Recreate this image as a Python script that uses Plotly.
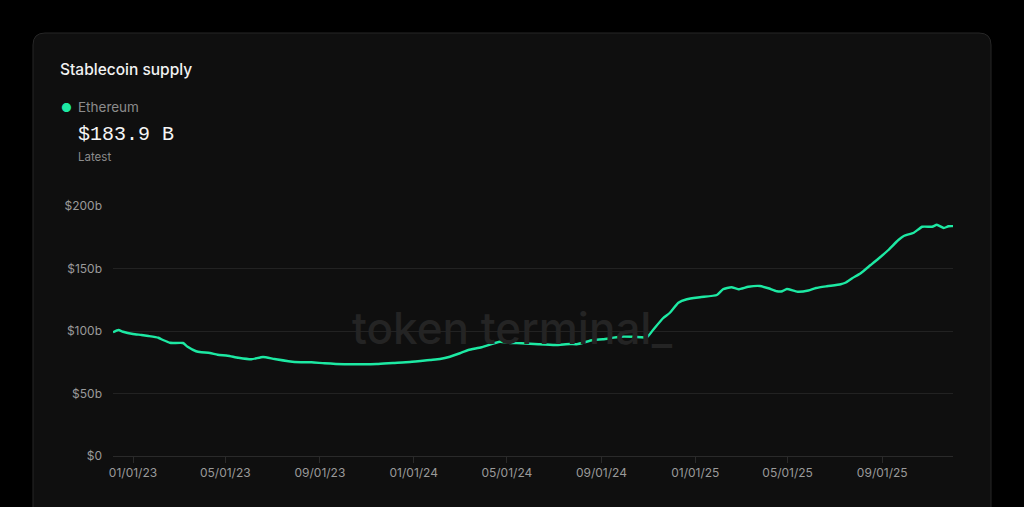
import plotly.graph_objects as go

# Ethereum stablecoin supply, $b
dates = [
    "2022-12-06", "2022-12-13", "2022-12-19", "2023-01-01", "2023-01-12", "2023-01-21",
    "2023-02-03", "2023-02-09", "2023-02-18", "2023-02-22", "2023-03-07", "2023-03-13",
    "2023-03-24", "2023-03-31", "2023-04-11", "2023-04-21", "2023-05-04", "2023-05-18",
    "2023-06-04", "2023-06-19", "2023-07-04", "2023-07-30", "2023-08-21", "2023-09-07",
    "2023-10-03", "2023-10-23", "2023-11-14", "2023-12-05", "2023-12-27", "2024-01-22",
    "2024-02-04", "2024-02-17", "2024-03-01", "2024-03-12", "2024-03-29", "2024-04-22",
    "2024-05-03", "2024-05-20", "2024-06-11", "2024-07-03", "2024-07-22", "2024-07-31",
    "2024-08-21", "2024-09-03", "2024-09-25", "2024-10-12", "2024-10-30", "2024-11-07",
    "2024-11-20", "2024-11-29", "2024-12-10", "2024-12-21", "2025-01-07", "2025-01-29",
    "2025-02-06", "2025-02-17", "2025-02-26", "2025-03-11", "2025-03-26", "2025-04-06",
    "2025-04-17", "2025-04-24", "2025-04-30", "2025-05-14", "2025-05-28", "2025-06-07",
    "2025-06-21", "2025-07-09", "2025-07-15", "2025-07-24", "2025-08-04", "2025-08-17",
    "2025-08-30", "2025-09-09", "2025-09-22", "2025-09-29", "2025-10-12", "2025-10-23",
    "2025-11-05", "2025-11-11", "2025-11-20", "2025-11-26", "2025-12-02",
]
supply = [
    99.0, 100.8, 99.4, 97.6, 96.8, 96.0,
    94.6, 92.8, 90.6, 90.4, 90.4, 87.4,
    83.8, 83.0, 82.4, 81.0, 80.2, 78.6,
    77.4, 79.2, 77.6, 75.2, 75.0, 74.2,
    73.4, 73.4, 73.6, 74.4, 75.2, 76.8,
    77.6, 79.4, 82.2, 84.8, 87.0, 91.4,
    90.6, 90.2, 89.4, 88.8, 89.6, 89.4,
    92.8, 93.4, 95.4, 95.4, 95.0, 100.8,
    110.2, 114.6, 122.6, 125.4, 127.0, 128.8,
    133.4, 135.0, 133.4, 135.4, 136.0, 134.2,
    131.8, 131.8, 133.6, 131.4, 132.4, 134.4,
    135.8, 137.4, 138.6, 142.2, 146.2, 152.8,
    159.4, 164.8, 172.8, 176.0, 178.6, 183.4,
    183.4, 185.0, 182.4, 183.8, 183.9,
]

y_ticks = [0, 50, 100, 150, 200]
y_tick_labels = ["$0", "$50b", "$100b", "$150b", "$200b"]

W, H = 1024, 507
L, R, T, B = 113, 953, 206, 456   # plot area in pixels
GREEN = "#1de9a3"
CARD = "#0f0f0f"


def px(x):
    return (x - L) / (R - L)


def py(y):
    return (B - y) / (B - T)


fig = go.Figure()
fig.add_trace(go.Scatter(
    x=dates, y=supply, mode="lines", name="Ethereum",
    line=dict(color=GREEN, width=2.4, shape="spline", smoothing=0.5), hoverinfo="x+y",
))

# card with rounded corners
cx0, cx1, cy0, cy1, r = 33, 991, 33, 540, 12
rx, ry = r / (R - L), r / (B - T)
card_path = (
    f"M {px(cx0)+rx} {py(cy0)} L {px(cx1)-rx} {py(cy0)} "
    f"Q {px(cx1)} {py(cy0)} {px(cx1)} {py(cy0)-ry} "
    f"L {px(cx1)} {py(cy1)} L {px(cx0)} {py(cy1)} "
    f"L {px(cx0)} {py(cy0)-ry} Q {px(cx0)} {py(cy0)} {px(cx0)+rx} {py(cy0)} Z"
)
fig.add_shape(type="path", path=card_path, xref="paper", yref="paper",
              fillcolor=CARD, line=dict(color="#262626", width=1), layer="below")

def label(x, y, text, size, color, family="Inter", anchor="left", **kw):
    fig.add_annotation(x=px(x), y=py(y), xref="paper", yref="paper", text=text,
                       showarrow=False, xanchor=anchor, yanchor="middle",
                       font=dict(size=size, color=color, family=family, **kw))

label(58, 69, "Stablecoin supply", 15.5, "#f2f2f2", weight=500)
label(59, 107, "●", 12, GREEN)
label(76, 107, "Ethereum", 13.5, "#8c8c8c")
label(76, 134, "$183.9 B", 20, "#f5f5f5", family="Liberation Mono")
label(76, 157, "Latest", 11.5, "#8c8c8c")
label(512, 328, "token terminal_", 44, "#242424", anchor="center", weight=500)

fig.update_layout(
    width=W, height=H,
    margin=dict(l=L, r=W - R, t=T, b=H - B, autoexpand=False),
    paper_bgcolor="#000000", plot_bgcolor=CARD,
    showlegend=False,
    font=dict(family="Inter", color="#9a9a9a", size=12),
    xaxis=dict(
        range=[dates[0], dates[-1]], tick0="2023-01-01", dtick="M4",
        tickformat="%m/%d/%y", showgrid=False, zeroline=False,
        showline=True, linecolor="#2a2a2a", linewidth=1,
        ticks="outside", ticklen=6, tickcolor="#2a2a2a",
        tickfont=dict(size=12, color="#9a9a9a"),
    ),
    yaxis=dict(
        range=[0, 200], tickvals=y_ticks, ticktext=y_tick_labels,
        showgrid=True, gridcolor="#222222", gridwidth=1, zeroline=False,
        showline=False, ticks="", ticklabelstandoff=10,
        tickfont=dict(size=12, color="#9a9a9a"),
    ),
)

fig.write_html("out.html", config={"displayModeBar": False},
               post_script="document.body.style.margin='0';"
               "document.body.style.background='#000';")
